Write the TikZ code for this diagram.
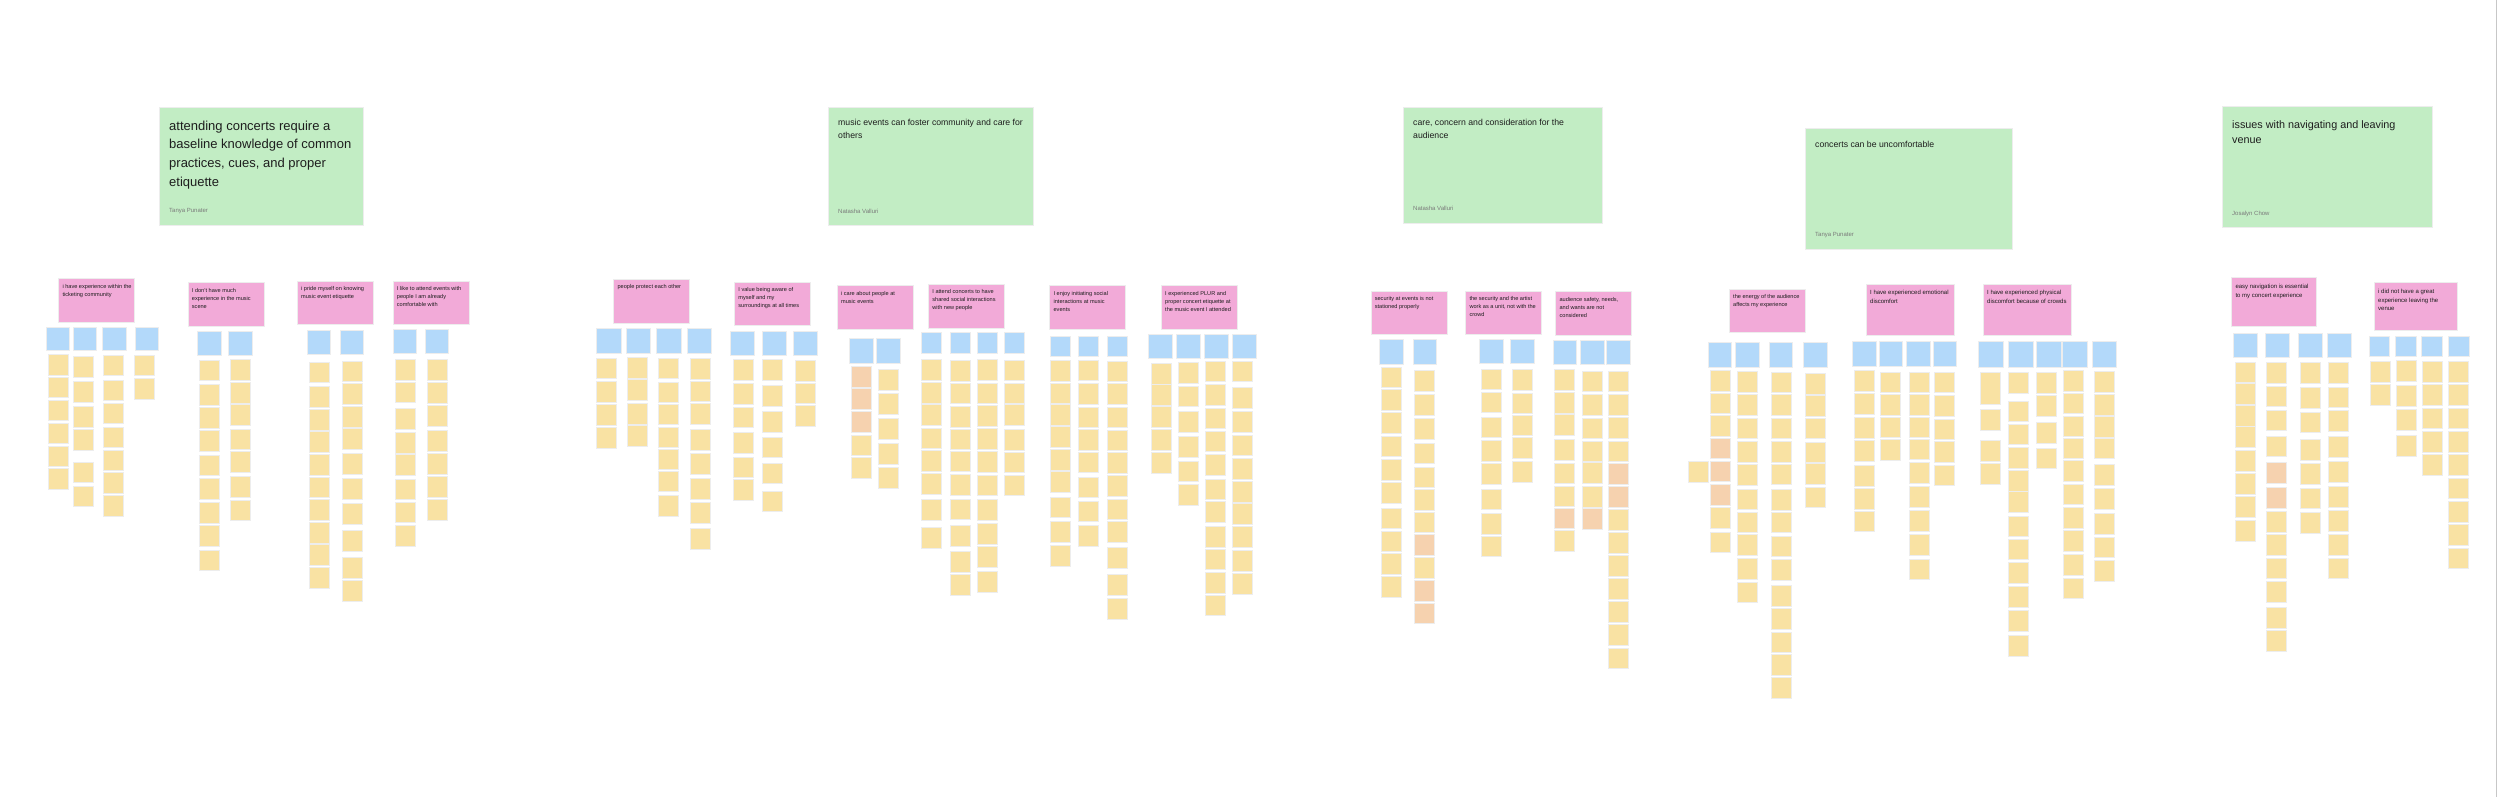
\documentclass[tikz,border=0pt]{standalone}
\usepackage{fontspec}
\setmainfont{Liberation Sans}
\definecolor{gr}{HTML}{C2EDC4}
\definecolor{pk}{HTML}{F2AAD8}
\definecolor{bl}{HTML}{B3D9FA}
\definecolor{Y}{HTML}{F9E2A3}
\definecolor{O}{HTML}{F6D2AF}
\definecolor{txt}{HTML}{1E1E1E}
\definecolor{auth}{HTML}{7A7A7A}
\tikzset{
  card/.style={draw=black!7, line width=0.5pt, inner sep=0pt, anchor=north west},
  greencard/.style={card, fill=gr},
  pinkcard/.style={card, fill=pk},
  bluecard/.style={card, fill=bl},
  ynote/.style={card, minimum width=20pt, minimum height=20.5pt},
  tx/.style={anchor=base west, inner sep=0pt, align=left, text=txt},
  hbig/.style={tx, font=\fontsize{13}{18.7}\selectfont},
  hmid/.style={tx, font=\fontsize{10.8}{16}\selectfont},
  hsml/.style={tx, font=\fontsize{8.7}{12.7}\selectfont},
  authtxt/.style={tx, text=auth, font=\fontsize{6}{7}\selectfont},
  ptext/.style={tx, font=\fontsize{5.6}{8}\selectfont},
  ptextL/.style={tx, font=\fontsize{6}{8.8}\selectfont}
}
% name, x, y, w, h, text, style, dy (to baseline of last line)
\newcommand\pinknote[8]{%
  \node[pinkcard, minimum width=#4pt, minimum height=#5pt] (#1) at (#2,#3) {};
  \node[#7] (#1-t) at ([shift={(4,#8)}]#1.north west) {#6};
}
% name, y, w, h, x list
\newcommand\bluerow[5]{%
  \foreach \xx [count=\i] in {#5}
    \node[bluecard, minimum width=#3pt, minimum height=#4pt] (#1-\i) at (\xx,#2) {};
}
% name, x, list of y/colour
\newcommand\ycol[3]{%
  \foreach \yy/\cc [count=\i] in {#3}
    \node[ynote, fill=\cc] (#1-\i) at (#2,\yy) {};
}
\begin{document}
\begin{tikzpicture}[x=1pt,y=-1pt]
\fill[white] (0,0) rectangle (2500,797);
\useasboundingbox (0,0) rectangle (2500,797);
\draw[black!22, line width=1pt] (2496.5,0) -- (2496.5,797);

% ---------- green headers ----------
\node[greencard, minimum width=204pt, minimum height=118pt] (g1) at (159,107) {};
\node[hbig] (g1-t) at ([shift={(10,79.1)}]g1.north west) {attending concerts require a\\baseline knowledge of common\\practices, cues, and proper\\etiquette};
\node[authtxt] (g1-a) at ([shift={(10,105)}]g1.north west) {Tanya Punater};

\node[greencard, minimum width=205pt, minimum height=118pt] (g2) at (828,107) {};
\node[hsml] (g2-t) at ([shift={(10,31.7)}]g2.north west) {music events can foster community and care for\\others};
\node[authtxt] (g2-a) at ([shift={(10,106)}]g2.north west) {Natasha Valluri};

\node[greencard, minimum width=199pt, minimum height=116pt] (g3) at (1403,107) {};
\node[hsml] (g3-t) at ([shift={(10,31.7)}]g3.north west) {care, concern and consideration for the\\audience};
\node[authtxt] (g3-a) at ([shift={(10,103)}]g3.north west) {Natasha Valluri};

\node[greencard, minimum width=207pt, minimum height=121pt] (g4) at (1805,128) {};
\node[hsml] (g4-t) at ([shift={(10,19)}]g4.north west) {concerts can be uncomfortable};
\node[authtxt] (g4-a) at ([shift={(10,108)}]g4.north west) {Tanya Punater};

\node[greencard, minimum width=210pt, minimum height=121pt] (g5) at (2222,106) {};
\node[hmid] (g5-t) at ([shift={(10,38)}]g5.north west) {issues with navigating and leaving\\venue};
\node[authtxt] (g5-a) at ([shift={(10,109)}]g5.north west) {Josalyn Chow};

% ---------- pink notes ----------
\pinknote{p1}{58.3}{278.3}{76}{43.4}{i have experience within the\\ticketing community}{ptext}{17.7}
\pinknote{p2}{187.7}{282.3}{76}{43.4}{I don't have much\\experience in the music\\scene}{ptext}{25.7}
\pinknote{p3}{297}{281}{76}{43.4}{i pride myself on knowing\\music event etiquette}{ptext}{17.7}
\pinknote{p4}{392.7}{281}{76}{43.4}{I like to attend events with\\people I am already\\comfortable with}{ptext}{25.7}
\pinknote{p5}{613.4}{279}{76}{43.7}{people protect each other}{ptext}{9.7}
\pinknote{p6}{734.2}{281.7}{76}{43.6}{I value being aware of\\myself and my\\surroundings at all times}{ptext}{25.7}
\pinknote{p7}{836.9}{285.3}{76}{44}{i care about people at\\music events}{ptext}{17.7}
\pinknote{p8}{928.2}{284}{76}{43.7}{I attend concerts to have\\shared social interactions\\with new people}{ptext}{25.7}
\pinknote{p9}{1049.4}{285.3}{76}{44}{I enjoy initiating social\\interactions at music\\events}{ptext}{25.7}
\pinknote{p10}{1161}{285.3}{76}{44}{I experienced PLUR and\\proper concert etiquette at\\the music event I attended}{ptext}{25.7}
\pinknote{p11}{1370.6}{290.7}{76}{43.6}{security at events is not\\stationed properly}{ptext}{17.7}
\pinknote{p12}{1465.3}{290.7}{76}{43.6}{the security and the artist\\work as a unit, not with the\\crowd}{ptext}{25.7}
\pinknote{p13}{1555.4}{291.3}{76}{43.7}{audience safety, needs,\\and wants are not\\considered}{ptext}{25.7}
\pinknote{p14}{1729}{289}{76}{43.3}{the energy of the audience\\affects my experience}{ptext}{17.7}
\pinknote{p15}{1866}{284}{88}{51}{I have experienced emotional\\discomfort}{ptextL}{19.3}
\pinknote{p16}{1983}{284}{88}{51}{I have experienced physical\\discomfort because of crowds}{ptextL}{19.3}
\pinknote{p17}{2231.3}{277.3}{84.4}{48.7}{easy navigation is essential\\to my concert experience}{ptextL}{19.8}
\pinknote{p18}{2374}{282.3}{82.7}{47.7}{i did not have a great\\experience leaving the\\venue}{ptextL}{28.6}

% ---------- blue notes ----------
\bluerow{b1}{326.7}{23.3}{23.3}{45.7,73,102.3,134.7}
\bluerow{b2}{331}{24}{24}{197.3,228}
\bluerow{b3}{330.3}{23.3}{24}{306.7,340}
\bluerow{b4}{329.3}{23.3}{24}{393,425}
\bluerow{b5}{328.3}{24.4}{24.4}{596.1,625.6,656.3,687}
\bluerow{b6}{330.7}{24}{24.3}{730,761.5,793}
\bluerow{b7}{338.3}{24.4}{24.4}{848.6,876}
\bluerow{b8}{332.3}{20}{20.4}{920.6,949.7,977,1004.4}
\bluerow{b9}{335.7}{20}{20.3}{1049.8,1077.6,1106.6}
\bluerow{b10}{334}{23.7}{23.7}{1148,1176.3,1204.3,1232}
\bluerow{b11}{339.3}{23.7}{25}{1379,1412.6}
\bluerow{b12}{339.3}{23.8}{24}{1479,1510}
\bluerow{b13}{340}{23.3}{24.3}{1552.8,1580.4,1606.3}
\bluerow{b14}{341.7}{23.5}{25}{1707.7,1735,1768.8,1803}
\bluerow{b15}{341}{23.6}{25}{1852,1878.6,1906,1932.7}
\bluerow{b16}{340.7}{24.5}{26}{1978.3,2008.3,2036,2062,2091.7}
\bluerow{b17}{333.3}{23.6}{24}{2233,2265,2298.3,2327.3}
\bluerow{b18}{335.7}{20.3}{20.3}{2368.7,2395.3,2421.3,2448.3}

% ---------- yellow / orange notes ----------
\ycol{c1a}{47.7}{354.3/Y,376.7/Y,399.7/Y,422.7/Y,445.7/Y,468.3/Y}
\ycol{c1b}{73}{356/Y,381/Y,406.3/Y,429.3/Y,461.7/Y,485.7/Y}
\ycol{c1c}{103}{354.7/Y,379.7/Y,402.7/Y,426.7/Y,449.7/Y,472.3/Y,495.3/Y}
\ycol{c1d}{134.3}{354.7/Y,378/Y}
\ycol{c2a}{199.3}{359.7/Y,384/Y,407/Y,430.3/Y,454.7/Y,478/Y,502.3/Y,525.3/Y,549.7/Y}
\ycol{c2b}{230}{359/Y,382/Y,404.3/Y,428.7/Y,451.3/Y,476/Y,499.7/Y}
\ycol{c3a}{308.7}{361.7/Y,386.3/Y,409/Y,431.3/Y,454/Y,476.7/Y,499.3/Y,522.3/Y,544.3/Y,567/Y}
\ycol{c3b}{342.3}{360.7/Y,383/Y,406/Y,428/Y,453/Y,478.3/Y,503.3/Y,530/Y,557/Y,580.3/Y}
\ycol{c4a}{395}{359.3/Y,381.7/Y,408/Y,432/Y,454.3/Y,478.7/Y,501.7/Y,525/Y}
\ycol{c4b}{427}{359/Y,382/Y,405/Y,430/Y,453/Y,476.3/Y,499/Y}

\ycol{c5a}{596}{357.7/Y,381/Y,404/Y,427.3/Y}
\ycol{c5b}{626.8}{357.3/Y,379.3/Y,403.3/Y,425.3/Y}
\ycol{c5c}{658}{357.7/Y,381.7/Y,403.7/Y,426.7/Y,448.7/Y,470.7/Y,495.3/Y}
\ycol{c5d}{689.5}{358/Y,380.7/Y,403.3/Y,429.3/Y,453.3/Y,478/Y,502/Y,528/Y}
\ycol{c6a}{732.5}{359.3/Y,383.3/Y,406.7/Y,432.3/Y,456.7/Y,479.3/Y}
\ycol{c6b}{762.4}{359.3/Y,385/Y,411/Y,436.7/Y,462.7/Y,490.7/Y}
\ycol{c6c}{795}{360/Y,382.7/Y,405.3/Y}
\ycol{c7a}{851}{366.3/O,388.3/O,411/O,434.7/Y,457/Y}
\ycol{c7b}{878}{369/Y,393.3/Y,418.3/Y,443/Y,467.3/Y}
\ycol{c8a}{920.6}{359.3/Y,382/Y,404.3/Y,427.7/Y,450/Y,473/Y,499.3/Y,527.3/Y}
\ycol{c8b}{949.7}{360/Y,382.7/Y,406/Y,428.7/Y,450.7/Y,474/Y,498.7/Y,525.3/Y,551.3/Y,574/Y}
\ycol{c8c}{977}{359.3/Y,382.7/Y,405.3/Y,428.3/Y,451/Y,474.7/Y,499/Y,523.3/Y,546/Y,571/Y}
\ycol{c8d}{1004.4}{359.7/Y,382.7/Y,404.3/Y,429.3/Y,451.7/Y,474.7/Y}
\ycol{c9a}{1049.8}{360/Y,382.7/Y,404.3/Y,426/Y,449/Y,471.3/Y,496.7/Y,521.3/Y,545/Y}
\ycol{c9b}{1077.6}{359.7/Y,383.3/Y,406.7/Y,429.3/Y,451.7/Y,476.7/Y,500.7/Y,525.3/Y}
\ycol{c9c}{1106.6}{360.7/Y,383.3/Y,406.7/Y,429.7/Y,452.3/Y,475.3/Y,498.7/Y,521.3/Y,547.3/Y,574/Y,598/Y}
\ycol{c10a}{1151}{363.3/Y,384/Y,406/Y,429/Y,452.3/Y}
\ycol{c10b}{1178.3}{362.3/Y,385.7/Y,411/Y,436.3/Y,460.7/Y,484.3/Y}
\ycol{c10c}{1205}{360.7/Y,384/Y,407.7/Y,430.7/Y,454.3/Y,478.7/Y,501.3/Y,526/Y,548.7/Y,572/Y,594.7/Y}
\ycol{c10d}{1232}{360.7/Y,387.3/Y,411/Y,434.7/Y,458/Y,481/Y,503/Y,526/Y,550/Y,573/Y}

\ycol{c11a}{1380.5}{366.7/Y,389.3/Y,412.3/Y,435.7/Y,459/Y,482/Y,507.7/Y,530.7/Y,553.3/Y,576/Y}
\ycol{c11b}{1414}{370/Y,394/Y,418.3/Y,442.7/Y,466.7/Y,489.3/Y,511.7/Y,534/O,557.3/Y,580/O,602.7/O}
\ycol{c12a}{1481}{368.7/Y,391.7/Y,416.7/Y,440/Y,463.3/Y,488.7/Y,513/Y,535.7/Y}
\ycol{c12b}{1512}{369.3/Y,392.7/Y,414.7/Y,437.3/Y,461.3/Y}
\ycol{c13a}{1554}{369/Y,392/Y,414.3/Y,439/Y,462.7/Y,485.7/Y,507.7/O,530/Y}
\ycol{c13b}{1582}{370.7/Y,394/Y,417.7/Y,440.7/Y,462.3/Y,486/Y,508.3/O}
\ycol{c13c}{1607.7}{370.7/Y,394/Y,417.3/Y,440.7/Y,463.3/O,486/O,509/Y,532/Y,555/Y,578.3/Y,601/Y,624.3/Y,647.7/Y}

\node[ynote, fill=Y] (lone) at (1687.6,461) {};
\ycol{c14a}{1709.5}{370/Y,392.7/Y,415.3/Y,437.7/O,460.7/O,484/O,507.3/Y,531.7/Y}
\ycol{c14b}{1737}{371.3/Y,394.3/Y,417.7/Y,441/Y,464.3/Y,488.7/Y,511.7/Y,534.3/Y,558.3/Y,581.7/Y}
\ycol{c14c}{1771}{371.7/Y,394.3/Y,417.7/Y,441/Y,463.7/Y,489.3/Y,511.7/Y,535.7/Y,559/Y,585/Y,608.3/Y,631.7/Y,654.3/Y,677.3/Y}
\ycol{c14d}{1804.5}{373.3/Y,395/Y,417.7/Y,441.7/Y,463.3/Y,486.7/Y}
\ycol{c15a}{1854}{370.3/Y,393.3/Y,417/Y,440.3/Y,465/Y,488.3/Y,510.7/Y}
\ycol{c15b}{1880.4}{371.7/Y,394/Y,416.7/Y,439.3/Y}
\ycol{c15c}{1908.5}{371.7/Y,394/Y,416.7/Y,438.7/Y,462/Y,486/Y,510/Y,534.3/Y,558.7/Y}
\ycol{c15d}{1934.4}{371.7/Y,395/Y,418.7/Y,441.3/Y,464.7/Y}
\node[ynote, fill=Y, minimum height=32pt] (c16a-0) at (1979.7,372) {};
\ycol{c16a}{1979.7}{409/Y,440.3/Y,463.3/Y}
\ycol{c16b}{2008.3}{372/Y,400.7/Y,423.7/Y,447/Y,470/Y,491/Y,515.7/Y,538.7/Y,562/Y,586.3/Y,610.3/Y,635/Y}
\ycol{c16c}{2035.7}{372/Y,395.3/Y,422/Y,447.7/Y}
\ycol{c16d}{2063}{370/Y,392.7/Y,415.7/Y,437.7/Y,460/Y,483.7/Y,507.3/Y,530.3/Y,554/Y,577.7/Y}
\ycol{c16e}{2093.7}{371/Y,394/Y,416/Y,437.7/Y,464.3/Y,488.3/Y,513.3/Y,536.7/Y,560/Y}

\ycol{c17a}{2235}{361.7/Y,383.3/Y,405/Y,426/Y,450/Y,473/Y,496.3/Y,520/Y}
\ycol{c17b}{2266.3}{362.3/Y,385.7/Y,409.7/Y,435.7/Y,462/O,487.3/O,511/Y,534.3/Y,557.7/Y,581.3/Y,607/Y,630/Y}
\ycol{c17c}{2300.3}{362/Y,387.3/Y,411.7/Y,439.3/Y,463.3/Y,487.7/Y,512/Y}
\ycol{c17d}{2327.7}{362/Y,386.7/Y,410/Y,436/Y,461.3/Y,486/Y,510/Y,534.3/Y,557.7/Y}
\ycol{c18a}{2370}{361/Y,384.3/Y}
\ycol{c18b}{2396}{360/Y,385/Y,409.3/Y,435.3/Y}
\ycol{c18c}{2421.7}{361/Y,384.3/Y,407.7/Y,431/Y,454.3/Y}
\ycol{c18d}{2448.3}{361/Y,384.3/Y,407.7/Y,431/Y,454.3/Y,477.7/Y,501/Y,524.3/Y,547.7/Y}
\end{tikzpicture}
\end{document}
